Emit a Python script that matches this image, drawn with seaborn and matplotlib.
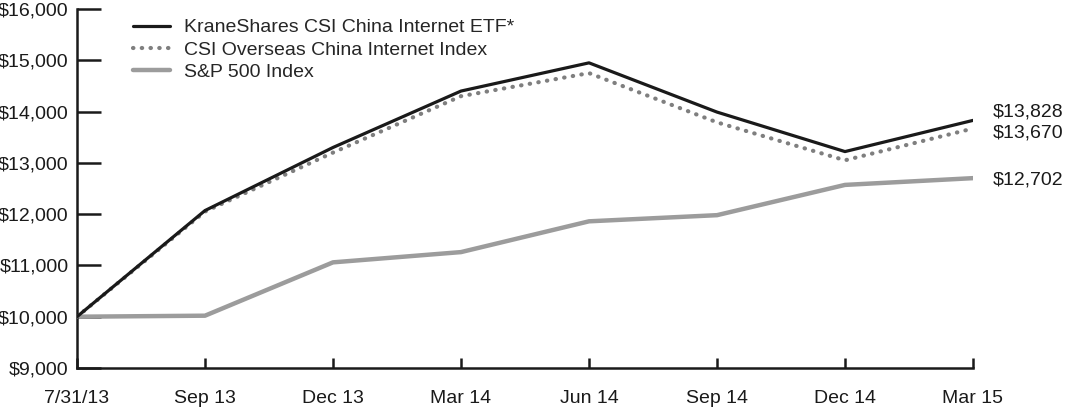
import numpy as np
import pandas as pd
import seaborn as sns
import matplotlib.pyplot as plt

periods = ['7/31/13', 'Sep 13', 'Dec 13', 'Mar 14', 'Jun 14', 'Sep 14', 'Dec 14', 'Mar 15']
etf = [10000, 12070, 13300, 14400, 14950, 13990, 13220, 13828]
csi_index = [10000, 12050, 13200, 14300, 14750, 13790, 13050, 13670]
sp500 = [10000, 10020, 11060, 11260, 11860, 11980, 12570, 12702]
end_labels = ['$13,828', '$13,670', '$12,702']

sns.set_style('ticks')
plt.rcParams['font.family'] = ['Liberation Sans', 'DejaVu Sans']

fig = plt.figure(figsize=(10.65, 4.08), dpi=100)
ax = fig.add_axes([77 / 1065, 1 - 368 / 408, (973 - 77) / 1065, (368 - 9) / 408])

x = np.arange(len(periods))
df = pd.DataFrame({'x': x, 'etf': etf, 'idx': csi_index, 'sp': sp500})

sns.lineplot(data=df, x='x', y='sp', ax=ax, color='#9c9c9c', linewidth=3.2,
             label='S&P 500 Index', zorder=2)
sns.lineplot(data=df, x='x', y='idx', ax=ax, color='#7f7f7f', linewidth=3.0,
             linestyle=(0, (0.1, 2.0)), dash_capstyle='round',
             label='CSI Overseas China Internet Index', zorder=3)
sns.lineplot(data=df, x='x', y='etf', ax=ax, color='#1a1a1a', linewidth=2.3,
             label='KraneShares CSI China Internet ETF*', zorder=4)

ax.set_xlim(0, len(periods) - 1)
ax.set_ylim(9000, 16000)
ax.set_xticks(x)
ax.set_xticklabels(periods)
ax.set_yticks(range(9000, 16001, 1000))
ax.set_yticklabels([f'${v:,}' for v in range(9000, 16001, 1000)])
ax.set_xlabel('')
ax.set_ylabel('')

for sp in ['top', 'right']:
    ax.spines[sp].set_visible(False)
for sp in ['left', 'bottom']:
    ax.spines[sp].set_linewidth(1.8)
    ax.spines[sp].set_color('#1a1a1a')

ax.tick_params(axis='y', direction='in', length=17, width=1.8, color='#1a1a1a',
               labelsize=14, pad=6, labelcolor='#1a1a1a')
ax.tick_params(axis='x', direction='in', length=7, width=1.8, color='#1a1a1a',
               labelsize=14, pad=16, labelcolor='#1a1a1a')

# end value labels
last = len(periods) - 1
ax.annotate(end_labels[0], (last, etf[-1]), xytext=(14, 6), textcoords='offset points',
            fontsize=14, va='center', ha='left', color='#1a1a1a', annotation_clip=False)
ax.annotate(end_labels[1], (last, csi_index[-1]), xytext=(14, -3), textcoords='offset points',
            fontsize=14, va='center', ha='left', color='#1a1a1a', annotation_clip=False)
ax.annotate(end_labels[2], (last, sp500[-1]), xytext=(14, -1), textcoords='offset points',
            fontsize=14, va='center', ha='left', color='#1a1a1a', annotation_clip=False)

h, l = ax.get_legend_handles_labels()
ax.legend(h[::-1], l[::-1], loc='upper left', bbox_to_anchor=(0.05, 1.005), frameon=False,
          fontsize=14, handlelength=1.9, handletextpad=0.7, labelspacing=0.23,
          borderaxespad=0.2)

fig.savefig('out.png', dpi=100)
